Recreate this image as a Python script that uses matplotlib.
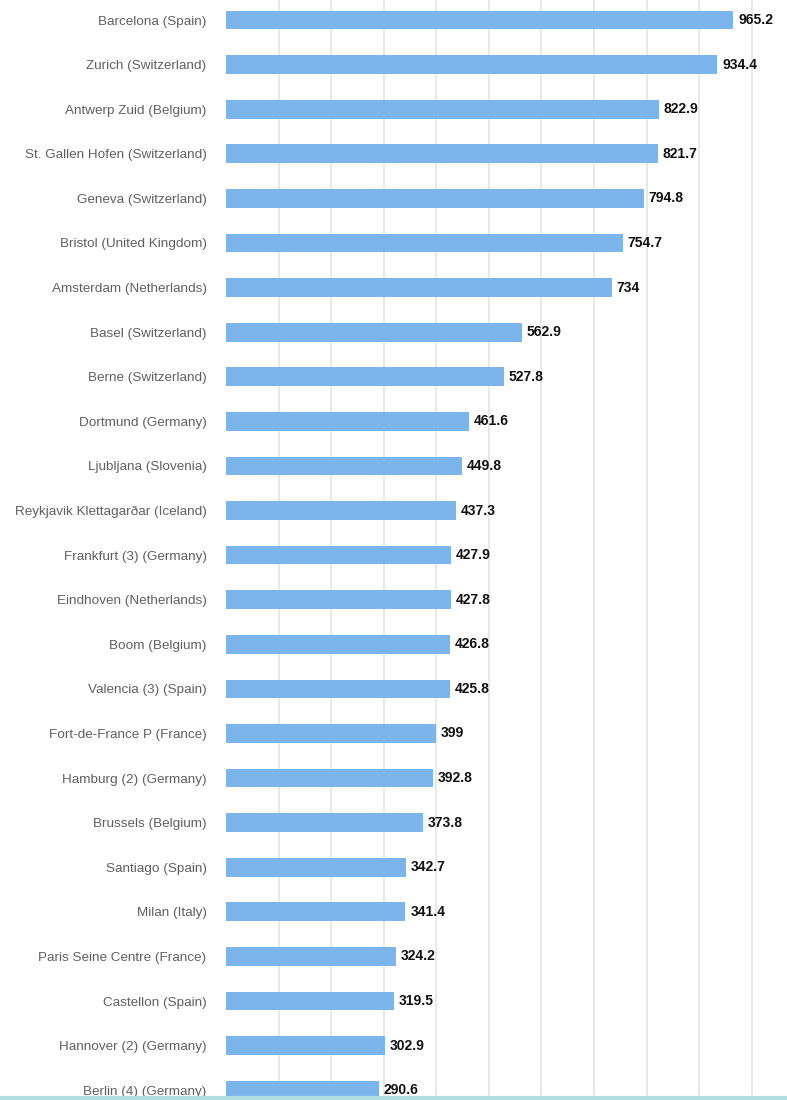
import numpy as np
import matplotlib.pyplot as plt

# city names and values, top to bottom
cities = ["Barcelona (Spain)", "Zurich (Switzerland)", "Antwerp Zuid (Belgium)",
          "St. Gallen Hofen (Switzerland)", "Geneva (Switzerland)",
          "Bristol (United Kingdom)", "Amsterdam (Netherlands)", "Basel (Switzerland)",
          "Berne (Switzerland)", "Dortmund (Germany)", "Ljubljana (Slovenia)",
          "Reykjavik Klettagarðar (Iceland)", "Frankfurt (3) (Germany)",
          "Eindhoven (Netherlands)", "Boom (Belgium)", "Valencia (3) (Spain)",
          "Fort-de-France P (France)", "Hamburg (2) (Germany)", "Brussels (Belgium)",
          "Santiago (Spain)", "Milan (Italy)", "Paris Seine Centre (France)",
          "Castellon (Spain)", "Hannover (2) (Germany)", "Berlin (4) (Germany)"]
values = [965.2, 934.4, 822.9, 821.7, 794.8, 754.7, 734, 562.9, 527.8, 461.6,
          449.8, 437.3, 427.9, 427.8, 426.8, 425.8, 399, 392.8, 373.8, 342.7,
          341.4, 324.2, 319.5, 302.9, 290.6]
value_labels = ["965.2", "934.4", "822.9", "821.7", "794.8", "754.7", "734", "562.9",
                "527.8", "461.6", "449.8", "437.3", "427.9", "427.8", "426.8", "425.8",
                "399", "392.8", "373.8", "342.7", "341.4", "324.2", "319.5", "302.9",
                "290.6"]

plt.rcParams['font.family'] = ['Liberation Sans', 'DejaVu Sans']

fig = plt.figure(figsize=(7.87, 11), dpi=100)
ax = fig.add_axes([226 / 787, 0.0, 1 - 226 / 787, 1.0])

y = np.arange(len(cities))
ax.barh(y, values, height=0.42, color='#7cb5ec', zorder=3)

# value labels right of bars
for yi, v, lab in zip(y, values, value_labels):
    ax.text(v + 9, yi, lab, va='center', ha='left', fontsize=10,
            fontweight='bold', color='#111111', zorder=4)

ax.set_xlim(0, 1067)
ax.set_ylim(24.22, -0.449)
ax.set_xticks(np.arange(100, 1001, 100))
ax.set_xticklabels([])
ax.xaxis.grid(True, color='#e4e4e4', linewidth=1.2, zorder=0)
ax.tick_params(axis='x', length=0)

ax.set_yticks(y)
ax.set_yticklabels(cities, fontsize=9.7, color='#606060')
ax.tick_params(axis='y', length=0, pad=14)

for s in ax.spines.values():
    s.set_visible(False)

# teal line along the bottom edge
fig.add_artist(plt.Line2D([0, 1], [0.002, 0.002], color='#b2e0e2', linewidth=3,
                          transform=fig.transFigure))

fig.savefig('out.png', dpi=100)
